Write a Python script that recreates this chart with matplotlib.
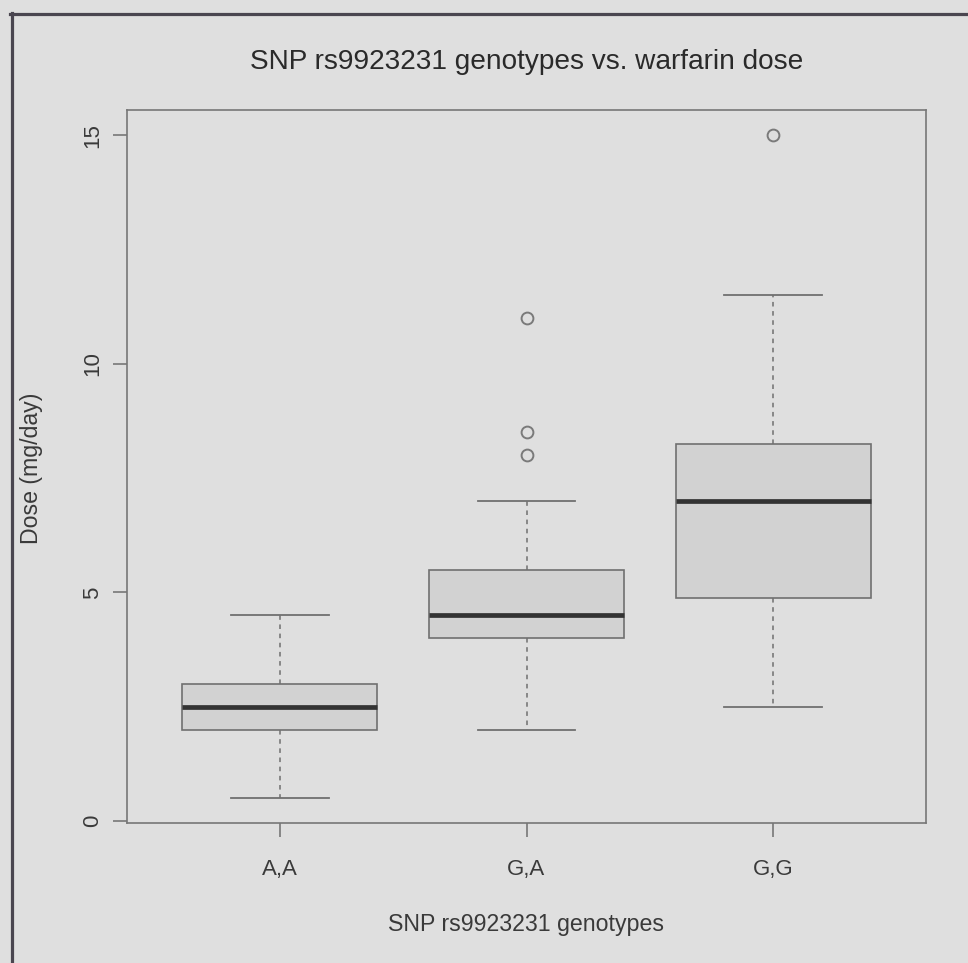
import matplotlib
matplotlib.use("Agg")
import matplotlib.pyplot as plt
from matplotlib.lines import Line2D

# Genotype groups and their five-number summaries (mg/day)
genotypes = ["A,A", "G,A", "G,G"]
whisker_low = [0.5, 2.0, 2.5]
q1 = [2.0, 4.0, 4.875]
median = [2.5, 4.5, 7.0]
q3 = [3.0, 5.5, 8.25]
whisker_high = [4.5, 7.0, 11.5]
outliers = [[], [8.0, 8.5, 11.0], [15.0]]

y_ticks = [0, 5, 10, 15]

title = "SNP rs9923231 genotypes vs. warfarin dose"
x_label = "SNP rs9923231 genotypes"
y_label = "Dose (mg/day)"

BG = "#dfdfdf"
BOX_FILL = "#d2d2d2"
EDGE = "#707070"
TEXT = "#3a3a3a"

plt.rcParams["font.family"] = ["Liberation Sans", "DejaVu Sans"]

W, H = 968, 963
fig = plt.figure(figsize=(W / 100, H / 100), dpi=100, facecolor=BG)

left, right, top, bottom = 127, 926, 110, 823
ax = fig.add_axes([left / W, 1 - bottom / H, (right - left) / W, (bottom - top) / H])
ax.set_facecolor(BG)

stats = []
for i, g in enumerate(genotypes):
    stats.append(dict(label=g, whislo=whisker_low[i], q1=q1[i], med=median[i],
                      q3=q3[i], whishi=whisker_high[i], fliers=outliers[i]))

positions = list(range(1, len(genotypes) + 1))
ax.bxp(stats, positions=positions, widths=0.79, patch_artist=True,
       showfliers=True,
       boxprops=dict(facecolor=BOX_FILL, edgecolor=EDGE, linewidth=1.2),
       medianprops=dict(color="#333333", linewidth=3.4, solid_capstyle="butt"),
       whiskerprops=dict(color=EDGE, linewidth=1.1, linestyle=(0, (3, 3))),
       capprops=dict(color=EDGE, linewidth=1.3),
       capwidths=0.395,
       flierprops=dict(marker="o", markerfacecolor="none", markeredgecolor="#7a7a7a",
                       markeredgewidth=1.4, markersize=8.5))

ax.set_xlim(0.38, 3.62)
ax.set_ylim(-0.04, 15.55)

for s in ax.spines.values():
    s.set_color("#777777")
    s.set_linewidth(1.2)

ax.set_xticks(positions)
ax.set_xticklabels(genotypes)
ax.set_yticks(y_ticks)
ax.set_yticklabels([str(v) for v in y_ticks], rotation=90, va="center")
ax.tick_params(axis="both", colors="#777777", labelcolor=TEXT, labelsize=16,
               length=10, width=1.2)
ax.tick_params(axis="y", pad=7)
ax.tick_params(axis="x", pad=16)

fig.text((left + right) / 2 / W, 1 - 69 / H, title, ha="center", va="baseline",
         fontsize=20.2, color="#2a2a2a")
fig.text((left + right) / 2 / W, 1 - 931 / H, x_label, ha="center", va="baseline",
         fontsize=16.7, color=TEXT)
fig.text(32 / W, 1 - 468 / H, y_label, ha="center", va="center", rotation=90,
         fontsize=16.7, color=TEXT)

# Dark frame along the top and left edges
frame_color = "#4a4650"
fig.add_artist(Line2D([10 / W, 1.0], [1 - 14 / H, 1 - 14 / H],
                      transform=fig.transFigure, color=frame_color, linewidth=2.3))
fig.add_artist(Line2D([12 / W, 12 / W], [1 - 13 / H, 0.0],
                      transform=fig.transFigure, color=frame_color, linewidth=2.3))

fig.savefig("out.png", dpi=100, facecolor=BG)
